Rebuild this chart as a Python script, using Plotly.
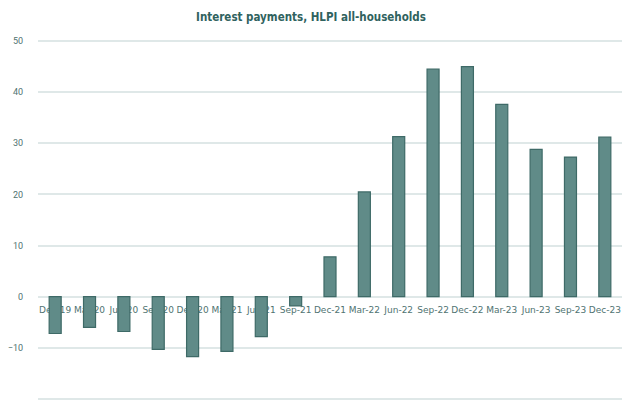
import plotly.graph_objects as go

categories = ["Dec-19", "Mar-20", "Jun-20", "Sep-20", "Dec-20", "Mar-21", "Jun-21", "Sep-21",
              "Dec-21", "Mar-22", "Jun-22", "Sep-22", "Dec-22", "Mar-23", "Jun-23", "Sep-23", "Dec-23"]
values = [-7.2, -6.0, -6.8, -10.3, -11.7, -10.7, -7.8, -1.8,
          7.8, 20.5, 31.3, 44.5, 45.0, 37.6, 28.8, 27.3, 31.2]
y_ticks = [-20, -10, 0, 10, 20, 30, 40, 50]

y_min, y_max = -20.2, 50.2

fig = go.Figure()
fig.add_trace(go.Bar(
    x=categories, y=values,
    width=0.35,
    marker=dict(color="#608b88", line=dict(color="#3e6a67", width=1.2)),
))

fig.update_layout(
    width=622, height=401,
    paper_bgcolor="white", plot_bgcolor="white",
    margin=dict(l=38, r=0, t=40, b=1),
    showlegend=False,
    title=dict(
        text="<b>Interest payments, HLPI all-households</b>",
        x=0.5, xanchor="center", y=0.958, yanchor="middle",
        font=dict(family="DejaVu Sans Condensed, sans-serif", size=11.5, color="#2f625e"),
    ),
    xaxis=dict(
        type="category",
        anchor="free",
        position=(0 - y_min) / (y_max - y_min),
        showgrid=False, showline=False, ticks="",
        layer="below traces",
        tickfont=dict(family="DejaVu Sans, sans-serif", size=9, color="#4f7371"),
        tickangle=0,
        ticklabelstandoff=6,
    ),
    yaxis=dict(
        range=[y_min, y_max],
        tickvals=y_ticks,
        showgrid=True, gridcolor="#dfe8e8", gridwidth=1.5,
        zeroline=True, zerolinecolor="#dfe8e8", zerolinewidth=1.5,
        showline=False, ticks="",
        tickfont=dict(family="Roboto, sans-serif", size=9, color="#4f7371"),
        ticklabelstandoff=14,
    ),
)

fig.write_html("out.html", config={"displayModeBar": False},
               post_script="document.body.style.margin='0px';")
